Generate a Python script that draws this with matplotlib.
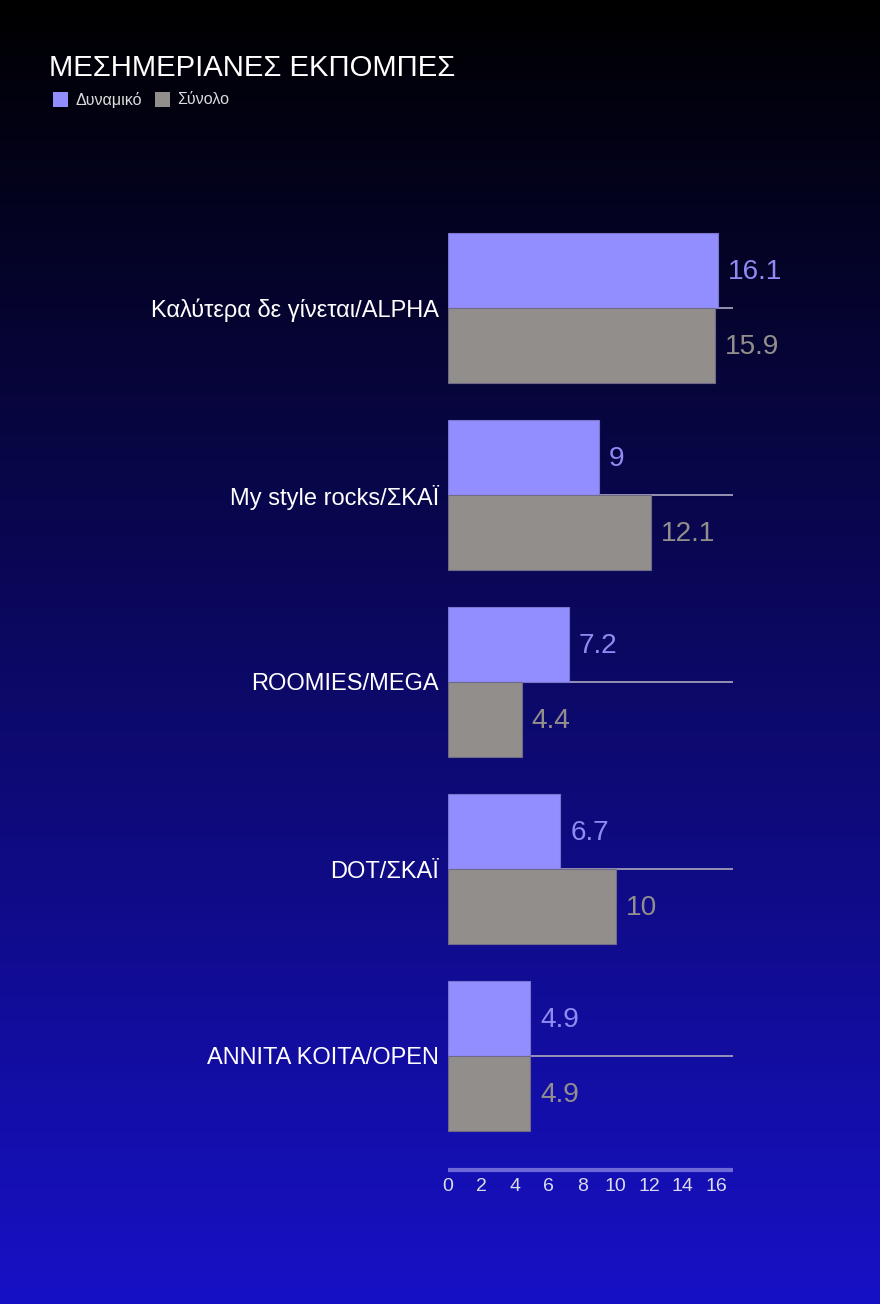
import matplotlib
matplotlib.use("Agg")
import matplotlib.pyplot as plt
import numpy as np

plt.rcParams['font.family'] = ['Liberation Sans', 'DejaVu Sans']

# data
shows = ['Καλύτερα δε γίνεται/ALPHA', 'My style rocks/ΣΚΑΪ', 'ROOMIES/MEGA',
         'DOT/ΣΚΑΪ', 'ANNITA KOITA/OPEN']
dynamiko = [16.1, 9, 7.2, 6.7, 4.9]
synolo = [15.9, 12.1, 4.4, 10, 4.9]
xticks = [0, 2, 4, 6, 8, 10, 12, 14, 16]

c_dyn = '#928eff'
c_syn = '#928e8c'

fig = plt.figure(figsize=(8.8, 13.04), dpi=100)

# gradient background
bg = fig.add_axes([0, 0, 1, 1], zorder=-10)
top = np.array([0, 0, 0]) / 255
bot = np.array([23, 17, 198]) / 255
t = np.linspace(0, 1, 512)[:, None]
grad = top + (bot - top) * t
bg.imshow(grad[:, None, :], aspect='auto', extent=[0, 1, 0, 1], origin='upper')
bg.axis('off')

ax = fig.add_axes([448/880, 1 - 1170/1304, 285/880, 970/1304])
ax.patch.set_alpha(0)

y = np.arange(len(shows))
h = 0.4
ax.barh(y - h/2, dynamiko, height=h, color=c_dyn, edgecolor='#7a76d0', linewidth=0.8, zorder=3)
ax.barh(y + h/2, synolo, height=h, color=c_syn, edgecolor='#6e6a88', linewidth=0.8, zorder=3)

for i in range(len(shows)):
    ax.plot([0, 17], [i, i], color='#a09cb8', lw=1.3, zorder=2, solid_capstyle='butt')
    ax.text(dynamiko[i] + 0.6, i - h/2 + 0.01, f"{dynamiko[i]:g}", color='#8f8bf2',
            fontsize=20.2, va='center', ha='left')
    ax.text(synolo[i] + 0.6, i + h/2 + 0.01, f"{synolo[i]:g}", color=c_syn,
            fontsize=20.2, va='center', ha='left')

ax.set_xlim(0, 17)
ax.set_ylim((1170 - 308) / 187, (200 - 308) / 187)
ax.set_yticks(y)
ax.set_yticklabels(shows, fontsize=17, color='white')
ax.set_xticks(xticks)
ax.set_xticklabels([str(v) for v in xticks], fontsize=14, color='#dcdcec')
ax.tick_params(axis='y', length=0, pad=6.5)
ax.tick_params(axis='x', length=0, pad=6)
for s in ['top', 'right', 'left']:
    ax.spines[s].set_visible(False)
ax.spines['bottom'].set_color('#6d69d6')
ax.spines['bottom'].set_linewidth(3)
ax.spines['bottom'].set_capstyle('butt')

fig.text(49/880, 1 - 76/1304, 'ΜΕΣΗΜΕΡΙΑΝΕΣ ΕΚΠΟΜΠΕΣ', color='white',
         fontsize=21.1, ha='left', va='baseline')

# legend
legend_items = [('Δυναμικό', c_dyn, 53), ('Σύνολο', c_syn, 155)]
for name, col, px in legend_items:
    fig.patches.append(plt.Rectangle((px/880, 1 - 107/1304), 15/880, 15/1304,
                                     transform=fig.transFigure, facecolor=col,
                                     edgecolor='none'))
    fig.text((px + 22)/880, 1 - 100/1304, name, color='#dcdcdc', fontsize=11.5,
             ha='left', va='center')

fig.savefig('out.png', dpi=100)
